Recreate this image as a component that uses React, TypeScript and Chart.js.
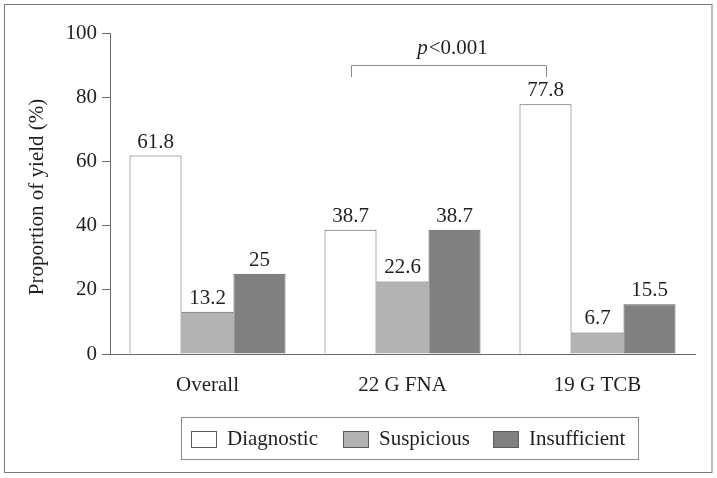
import React, { useEffect, useRef } from "react";
import { Chart, registerables } from "chart.js";

Chart.register(...registerables);

const categories = ["Overall", "22 G FNA", "19 G TCB"];
const seriesNames = ["Diagnostic", "Suspicious", "Insufficient"];
const diagnostic = [61.8, 38.7, 77.8];
const suspicious = [13.2, 22.6, 6.7];
const insufficient = [25, 38.7, 15.5];
const yTickStep = 20;
const yMin = 0;
const yMax = 100;
const yTitle = "Proportion of yield (%)";
const pLabelItalic = "p";
const pLabelRest = "<0.001";
const bracketCategories = [1, 2];

const FONT = "'Liberation Serif', 'Times New Roman', serif";
const TEXT = "#231f20";
const fills = ["#ffffff", "#b3b3b3", "#808080"];
const BAR_BORDER = "#5c5c5c";
const AXIS = "#6a6a6a";

const overlay = {
  id: "overlay",
  afterDraw(chart: any) {
    const ctx = chart.ctx;
    const y = chart.scales.y;
    ctx.save();
    // outer frame
    ctx.strokeStyle = "#7a7a7a";
    ctx.lineWidth = 1;
    ctx.strokeRect(4.5, 4.5, 707.5, 468);

    // y title
    ctx.fillStyle = TEXT;
    ctx.font = `21px ${FONT}`;
    ctx.save();
    ctx.translate(43, 197);
    ctx.rotate(-Math.PI / 2);
    ctx.textAlign = "center";
    ctx.textBaseline = "alphabetic";
    ctx.fillText(yTitle, 0, 0);
    ctx.restore();

    // value labels
    ctx.textAlign = "center";
    ctx.textBaseline = "alphabetic";
    chart.data.datasets.forEach((ds: any, di: number) => {
      const meta = chart.getDatasetMeta(di);
      meta.data.forEach((bar: any, i: number) => {
        ctx.fillText(String(ds.data[i]), bar.x, bar.y - 8);
      });
    });

    // bracket
    const m0 = chart.getDatasetMeta(0);
    const x1 = Math.round(m0.data[bracketCategories[0]].x) + 0.5;
    const x2 = Math.round(m0.data[bracketCategories[1]].x) + 0.5;
    const yb = Math.round(y.getPixelForValue(90)) + 0.5;
    const ye = Math.round(y.getPixelForValue(86.4));
    ctx.strokeStyle = "#8a8a8a";
    ctx.beginPath();
    ctx.moveTo(x1, ye);
    ctx.lineTo(x1, yb);
    ctx.lineTo(x2, yb);
    ctx.lineTo(x2, ye);
    ctx.stroke();

    // p label
    ctx.font = `italic 21px ${FONT}`;
    const wp = ctx.measureText(pLabelItalic).width;
    ctx.font = `21px ${FONT}`;
    const wr = ctx.measureText(pLabelRest).width;
    const start = (x1 + x2) / 2 + 3 - (wp + wr) / 2;
    ctx.textAlign = "left";
    ctx.font = `italic 21px ${FONT}`;
    ctx.fillText(pLabelItalic, start, yb - 12);
    ctx.font = `21px ${FONT}`;
    ctx.fillText(pLabelRest, start + wp + 1, yb - 12);

    // legend
    ctx.strokeStyle = "#8a8a8a";
    ctx.strokeRect(181.5, 417.5, 457, 42);
    const swatchX = [191, 343, 493];
    chart.data.datasets.forEach((ds: any, di: number) => {
      const sx = swatchX[di];
      ctx.fillStyle = ds.backgroundColor;
      ctx.fillRect(sx, 431, 26, 17);
      ctx.strokeStyle = BAR_BORDER;
      ctx.strokeRect(sx + 0.5, 431.5, 25, 16);
      ctx.fillStyle = TEXT;
      ctx.font = `21px ${FONT}`;
      ctx.textAlign = "left";
      ctx.fillText(ds.label, sx + 36, 445);
    });
    ctx.restore();
  },
};

export default function App() {
  const ref = useRef<HTMLCanvasElement>(null);
  useEffect(() => {
    if (!ref.current) return;
    const seriesValues = [diagnostic, suspicious, insufficient];
    const chart = new Chart(ref.current, {
      type: "bar",
      data: {
        labels: categories,
        datasets: seriesNames.map((name, i) => ({
          label: name,
          data: seriesValues[i],
          backgroundColor: fills[i],
          borderColor: BAR_BORDER,
          borderWidth: 1,
          categoryPercentage: 0.8,
          barPercentage: 1.0,
        })),
      },
      options: {
        responsive: false,
        animation: false,
        devicePixelRatio: 1,
        layout: { padding: { left: 0, right: 22, top: 33, bottom: 0 } },
        plugins: { legend: { display: false }, tooltip: { enabled: false } },
        scales: {
          x: {
            grid: { display: true, drawOnChartArea: false, drawTicks: false },
            border: { display: true, color: AXIS, width: 1 },
            ticks: {
              color: TEXT,
              font: { family: FONT, size: 21 },
              padding: 19,
              maxRotation: 0,
            },
            afterFit: (s: any) => {
              s.height = 124;
            },
          },
          y: {
            min: yMin,
            max: yMax,
            grid: {
              display: true,
              drawOnChartArea: false,
              drawTicks: true,
              tickLength: 8,
              tickColor: AXIS,
            },
            border: { display: true, color: AXIS, width: 1 },
            ticks: {
              stepSize: yTickStep,
              color: TEXT,
              font: { family: FONT, size: 21 },
              padding: 5,
            },
            afterFit: (s: any) => {
              s.width = 110;
            },
          },
        },
      },
      plugins: [overlay],
    });
    return () => chart.destroy();
  }, []);
  return (
    <div style={{ position: "absolute", left: 0, top: 0, width: 717, height: 478, background: "#fff" }}>
      <canvas ref={ref} width={717} height={478} />
    </div>
  );
}
